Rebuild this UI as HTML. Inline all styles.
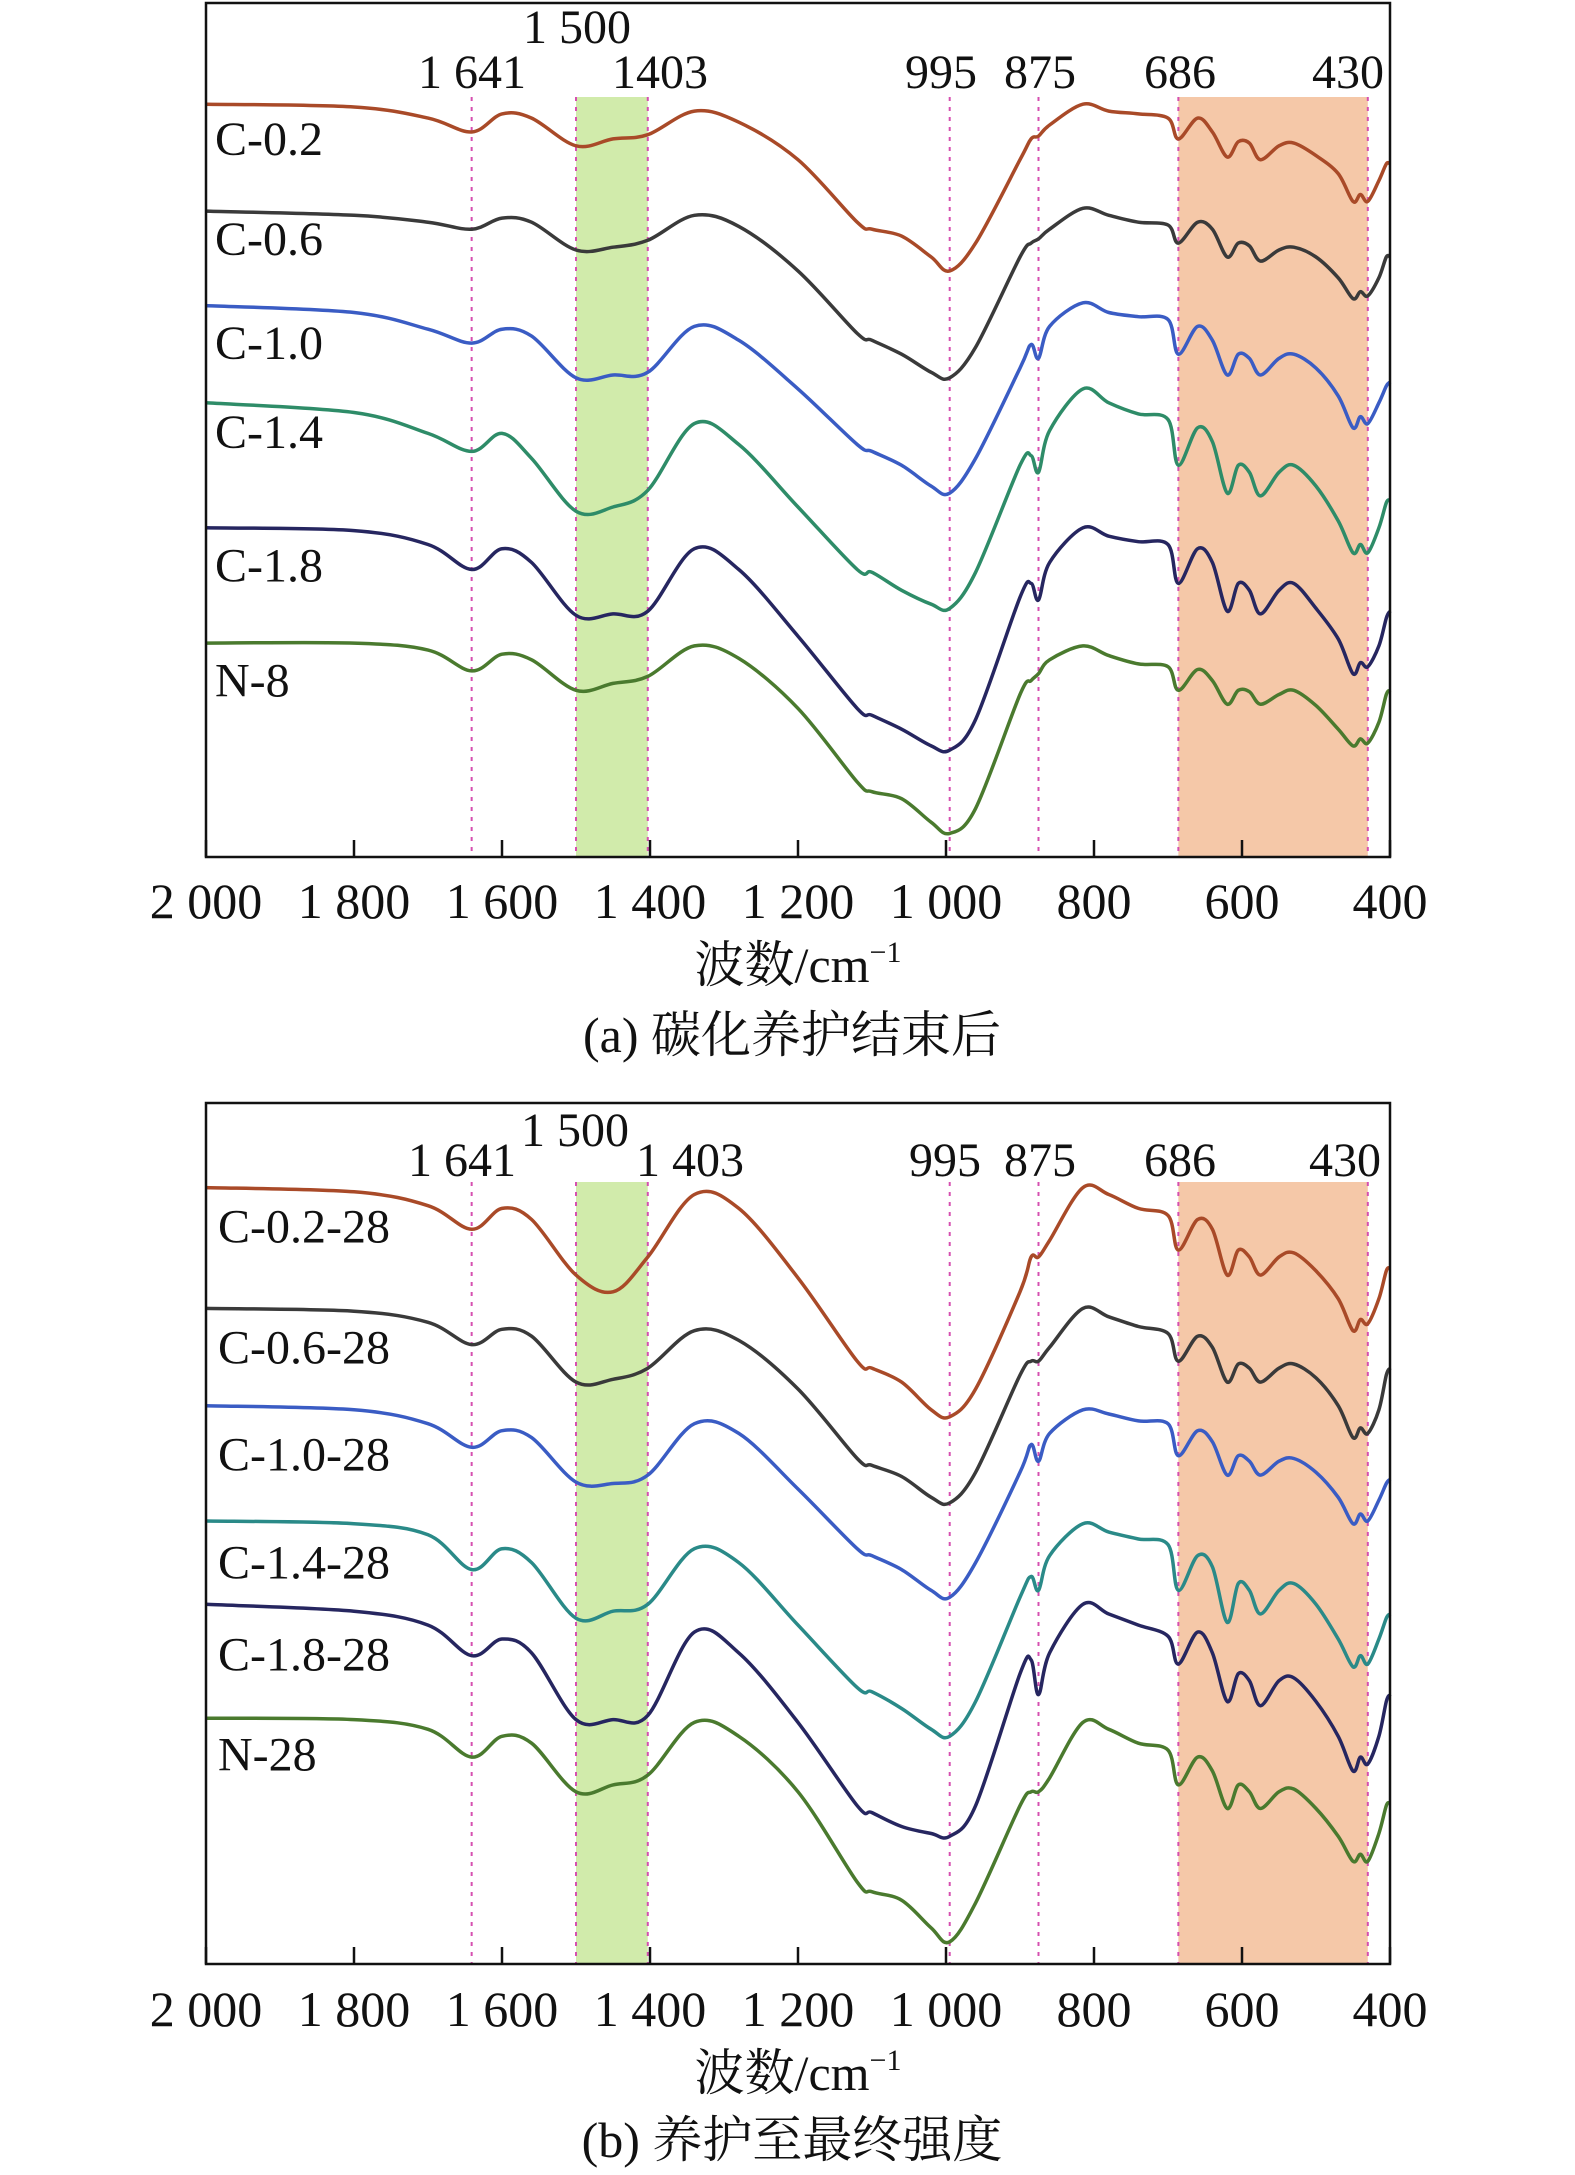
<!DOCTYPE html>
<html><head><meta charset="utf-8">
<style>
html,body{margin:0;padding:0;background:#fff;}
svg{display:block;}
text{font-family:"Liberation Serif","Noto Serif CJK SC",serif;fill:#111;}
</style></head>
<body>
<svg id="chart" width="1575" height="2175" viewBox="0 0 1575 2175" xmlns="http://www.w3.org/2000/svg"></svg>
<script>
// ---- data ----
const wavenumbers = [2000,1800,1700,1641,1600,1560,1500,1450,1403,1340,1280,1200,1120,1100,1060,1020,995,960,900,885,875,860,815,780,740,700,686,660,640,620,605,590,575,550,530,500,470,450,440,430,415,405,400];
const seriesNamesA = ["C-0.2","C-0.6","C-1.0","C-1.4","C-1.8","N-8"];
const seriesNamesB = ["C-0.2-28","C-0.6-28","C-1.0-28","C-1.4-28","C-1.8-28","N-28"];
const markerWavenumbers = [1641,1500,1403,995,875,686,430];
const markerLabels = ["1 641","1 500","1403","995","875","686","430"];
const markerLabelsB = ["1 641","1 500","1 403","995","875","686","430"];
const xTicks = [2000,1800,1600,1400,1200,1000,800,600,400];
const xTickLabels = ["2 000","1 800","1 600","1 400","1 200","1 000","800","600","400"];
const greenBand = [1500,1403];
const peachBand = [686,430];
// panel (a) values, arbitrary transmittance units (larger = lower on chart)
const a_C02 = [75,77,85,95,82,85,105,100,97,80,88,115,160,165,170,185,195,175,115,100,98,90,75,80,82,85,100,85,95,113,102,103,115,105,103,112,125,145,140,145,130,118,118];
const a_C06 = [152,155,160,165,157,160,180,178,173,155,163,195,240,245,255,268,272,250,185,175,172,165,150,155,160,162,175,160,165,185,175,177,188,180,178,185,200,215,210,213,200,185,185];
const a_C10 = [220,225,237,247,237,242,272,270,268,235,245,280,320,325,335,350,355,330,265,248,258,235,218,225,228,230,255,235,245,270,255,258,270,258,255,265,285,308,300,305,290,278,275];
const a_C14 = [290,297,312,325,312,330,368,365,353,305,320,365,410,412,425,435,438,412,335,328,340,310,280,290,298,302,335,308,318,355,335,340,357,340,335,350,375,398,392,398,380,362,360];
const a_C18 = [380,382,392,410,395,405,443,442,440,395,410,458,510,515,525,537,540,518,430,420,432,405,380,386,390,392,420,395,405,440,420,425,442,425,420,438,460,485,477,480,465,445,440];
const a_N8  = [463,463,468,483,471,475,497,492,487,465,474,510,563,570,575,592,600,582,500,490,485,475,465,472,478,480,497,482,490,507,497,498,507,500,497,508,525,537,532,535,520,500,497];
// panel (b) values
const b_C02 = [855,858,868,885,870,878,918,930,905,860,870,920,980,985,995,1015,1020,1000,930,905,905,893,855,860,870,875,900,878,885,918,900,905,918,905,902,915,935,958,950,953,935,915,913];
const b_C06 = [942,944,952,968,957,962,995,993,985,958,965,1000,1050,1055,1063,1078,1082,1060,990,980,980,970,942,948,955,960,980,962,970,995,982,985,995,985,982,992,1012,1035,1028,1032,1015,990,985];
const b_C10 = [1012,1015,1025,1042,1030,1035,1067,1068,1062,1025,1032,1072,1115,1120,1130,1145,1150,1125,1060,1040,1052,1032,1015,1018,1023,1025,1048,1030,1038,1062,1048,1052,1062,1052,1050,1060,1078,1097,1090,1095,1080,1068,1065];
const b_C14 = [1095,1097,1105,1130,1115,1125,1165,1160,1155,1115,1125,1170,1215,1218,1230,1245,1250,1225,1150,1135,1145,1120,1097,1103,1108,1112,1145,1120,1128,1168,1140,1145,1162,1145,1140,1155,1180,1200,1192,1198,1180,1165,1162];
const b_C18 = [1155,1160,1170,1192,1180,1190,1238,1238,1235,1175,1190,1240,1300,1305,1315,1320,1322,1300,1205,1195,1220,1190,1155,1162,1170,1178,1198,1175,1190,1225,1205,1210,1228,1210,1208,1225,1250,1275,1265,1270,1250,1225,1220];
const b_N28 = [1237,1238,1245,1265,1250,1255,1290,1285,1278,1240,1250,1290,1355,1362,1368,1388,1398,1370,1300,1290,1290,1280,1240,1245,1255,1260,1285,1265,1275,1302,1285,1290,1302,1290,1288,1302,1322,1340,1335,1340,1320,1300,1298];

const colorsA = ["#a94a28","#3a3a3a","#3a5cc4","#2e8c68","#262660","#4a7a2e"];
const colorsB = ["#a94a28","#3a3a3a","#3a5cc4","#2a8a88","#262660","#4a7a2e"];

// ---- layout ----
const S = 1.389;
const L = 206, R = 1390;
function x(w){ return L + (2000 - w) * (R - L) / 1600; }
function y(v){ return v * S; }
const svg = document.getElementById('chart');
const NS = "http://www.w3.org/2000/svg";
function mk(tag, attrs, parent){
  const e = document.createElementNS(NS, tag);
  for (const k in attrs) e.setAttribute(k, attrs[k]);
  (parent || svg).appendChild(e);
  return e;
}
function smoothPath(pts){
  let d = "M" + pts[0][0].toFixed(1) + "," + pts[0][1].toFixed(1);
  for (let i = 0; i < pts.length - 1; i++){
    const p0 = pts[Math.max(0,i-1)], p1 = pts[i], p2 = pts[i+1], p3 = pts[Math.min(pts.length-1,i+2)];
    const c1x = p1[0] + (p2[0]-p0[0])/6, c1y = p1[1] + (p2[1]-p0[1])/6;
    const c2x = p2[0] - (p3[0]-p1[0])/6, c2y = p2[1] - (p3[1]-p1[1])/6;
    d += " C" + c1x.toFixed(1)+","+c1y.toFixed(1)+" "+c2x.toFixed(1)+","+c2y.toFixed(1)+" "+p2[0].toFixed(1)+","+p2[1].toFixed(1);
  }
  return d;
}

function panel(cfg){
  const g = mk('g', {});
  
  
  const top = cfg.top, bot = cfg.bottom, bandTop = cfg.bandTop;
  const gb = mk('rect', {x: x(greenBand[0]), y: bandTop, width: x(greenBand[1]) - x(greenBand[0]), height: bot - bandTop, fill: "#d1ebab"}, g);
  
  
  const pb = mk('rect', {x: x(peachBand[0]), y: bandTop, width: x(peachBand[1]) - x(peachBand[0]), height: bot - bandTop, fill: "#f5c8a8"}, g);
  
  
  markerWavenumbers.forEach((w, i) => {
    const ln = mk('line', {x1: x(w), x2: x(w), y1: bandTop, y2: bot, stroke: "#d64fb0", "stroke-width": 2, "stroke-dasharray": "4 6"}, g);
    
    
  });
  cfg.markerPos.forEach((p, i) => {
    const t = mk('text', {x: p[0], y: p[1], "font-size": 48, "text-anchor": "middle"}, g);
    t.textContent = cfg.markerLabels[i];
    
    
  });
  cfg.series.forEach((vals, si) => {
    const pts = wavenumbers.map((w, i) => [x(w), y(vals[i])]);
    const p = mk('path', {d: smoothPath(pts), fill: "none", stroke: cfg.colors[si], "stroke-width": 3.5, "stroke-linejoin": "round"}, g);
    
    
    const t = mk('text', {x: cfg.labelX, y: y(cfg.labelY[si]) + 16, "font-size": 48}, g);
    t.textContent = cfg.names[si];
    
    
  });
  const fr = mk('rect', {x: L, y: top, width: R - L, height: bot - top, fill: "none", stroke: "#111", "stroke-width": 2.5}, g);
  
  
  xTicks.forEach((w, i) => {
    const tk = mk('line', {x1: x(w), x2: x(w), y1: bot, y2: bot - 17, stroke: "#111", "stroke-width": 2.5}, g);
    
    
    const tl = mk('text', {x: x(w), y: cfg.tickY, "font-size": 50, "text-anchor": "middle"}, g);
    tl.textContent = xTickLabels[i];
    
    
  });
  const at = mk('text', {x: 798, y: cfg.titleY, "font-size": 50, "text-anchor": "middle"}, g);
  at.innerHTML = '波数/cm<tspan font-size="30" dy="-20">−1</tspan>';
  
  
  const cp = mk('text', {x: 792, y: cfg.captionY, "font-size": 50, "text-anchor": "middle"}, g);
  cp.textContent = cfg.caption;
  
  
}

panel({
  name: 'panel-a', top: 3, bottom: 857, bandTop: 97,
  series: [a_C02,a_C06,a_C10,a_C14,a_C18,a_N8], names: seriesNamesA, colors: colorsA,
  labelX: 215, labelY: [100,172,247,311,407,490],
  markerLabels: markerLabels,
  markerPos: [[472,88],[577,43],[660,88],[941,88],[1040,88],[1180,88],[1348,88]],
  tickY: 918, titleY: 982, captionY: 1052, caption: "(a) 碳化养护结束后"
});
panel({
  name: 'panel-b', top: 1103, bottom: 1964, bandTop: 1182,
  series: [b_C02,b_C06,b_C10,b_C14,b_C18,b_N28], names: seriesNamesB, colors: colorsB,
  labelX: 218, labelY: [883,970,1047,1125,1191,1263],
  markerLabels: markerLabelsB,
  markerPos: [[462,1176],[575,1146],[690,1176],[945,1176],[1040,1176],[1180,1176],[1345,1176]],
  tickY: 2026, titleY: 2090, captionY: 2157, caption: "(b) 养护至最终强度"
});
</script>
</body></html>
